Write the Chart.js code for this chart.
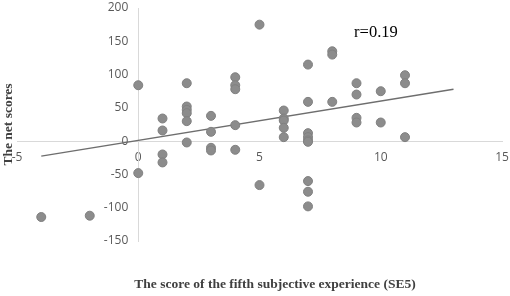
<!DOCTYPE html>
<html>
<head>
<meta charset="utf-8">
<script src="https://cdn.jsdelivr.net/npm/chart.js@4"></script>
<style>
  html, body { margin: 0; padding: 0; background: #fff; }
  #wrap { width: 510px; height: 296px; position: relative; }
</style>
</head>
<body>
<div id="wrap"><canvas id="chart"></canvas></div>
<script>
// Scatter of SE5 score vs net score
const xValues = [0, 0, 1, 1, 1, 1, 2, 2, 2, 2, 2, 2, 3, 3, 3, 3, 4, 4, 4, 4, 4,
  5, 5, -4, -2, 6, 6, 6, 6, 6, 7, 7, 7, 7, 7, 7, 7, 7, 7, 8, 8, 8,
  9, 9, 9, 9, 10, 10, 11, 11, 11];
const yValues = [84, -48, 34, 16, -20, -32, 87, 52, 47, 42, 30, -2, 38, 14, -10, -14, 96, 84, 78, 24, -13,
  175, -66, -114, -112, 46, 34, 31, 20, 6, 115, 59, 12, 6, 1, -1, -60, -76, -98, 135, 130, 59,
  87, 70, 35, 28, 75, 28, 99, 87, 6];

// trendline end points
const trendX = [-4, 13];
const trendY = [-22.5, 78];

const xTicks = [-5, 0, 5, 10, 15];
const yTicks = [-150, -100, -50, 0, 50, 100, 150, 200];

const points = xValues.map((x, i) => ({ x: x, y: yValues[i] }));
const trend = trendX.map((x, i) => ({ x: x, y: trendY[i] }));

// y axis sits at x=0, chart.js ignores padding there so shift its labels left
const shiftYLabels = {
    id: 'shiftYLabels',
    afterLayout(chart) {
        const ys = chart.scales.y;
        if (ys._shifted) return;
        const orig = ys.drawLabels.bind(ys);
        ys.drawLabels = function(area) {
            ys.ctx.save();
            ys.ctx.translate(-10, 0);
            orig(area);
            ys.ctx.restore();
        };
        ys._shifted = true;
    }
};

// axis titles and r label
const textPlugin = {
    id: 'textPlugin',
    afterDraw(chart) {
        const ctx = chart.ctx;
        const area = chart.chartArea;
        const xs = chart.scales.x;
        ctx.save();
        ctx.fillStyle = '#404040';
        ctx.font = "bold 13.5px 'Liberation Serif', serif";
        ctx.textAlign = 'center';
        ctx.textBaseline = 'middle';
        ctx.fillText('The score of the fifth subjective experience (SE5)', 275, 285);
        ctx.translate(9, (area.top + area.bottom) / 2);
        ctx.rotate(-Math.PI / 2);
        ctx.fillText('The net scores', 0, 0);
        ctx.restore();

        ctx.save();
        ctx.fillStyle = '#000';
        ctx.font = "16.5px 'Liberation Serif', serif";
        ctx.textAlign = 'left';
        ctx.textBaseline = 'middle';
        ctx.fillText('r=0.19', xs.getPixelForValue(8.9), 33);
        ctx.restore();
    }
};

const tickFont = { family: "'Open Sans', sans-serif", size: 12 };

new Chart(document.getElementById('chart'), {
    type: 'scatter',
    data: {
        datasets: [
            {
                label: 'Net scores',
                data: points,
                backgroundColor: '#8c8c8c',
                borderColor: '#808080',
                borderWidth: 1,
                pointRadius: 4.5
            },
            {
                type: 'line',
                label: 'Trend',
                data: trend,
                borderColor: '#6e6e6e',
                borderWidth: 1.5,
                pointRadius: 0,
                fill: false
            }
        ]
    },
    options: {
        responsive: true,
        maintainAspectRatio: false,
        animation: false,
        layout: {
            padding: { left: 17, right: 8, top: 8, bottom: 55 }
        },
        plugins: {
            legend: { display: false },
            tooltip: { enabled: false }
        },
        scales: {
            x: {
                type: 'linear',
                position: { y: 0 },
                min: -5,
                max: 15,
                afterBuildTicks: (s) => { s.ticks = xTicks.map(v => ({ value: v })); },
                ticks: { color: '#595959', font: tickFont, padding: 0 },
                // invisible tick marks, tickLength is just the label offset
                grid: { display: true, drawOnChartArea: false, drawTicks: true, tickLength: 9, tickColor: 'rgba(0,0,0,0)' },
                border: { display: true, color: '#d9d9d9', width: 1 }
            },
            y: {
                type: 'linear',
                position: { x: 0 },
                min: -150,
                max: 200,
                afterBuildTicks: (s) => { s.ticks = yTicks.map(v => ({ value: v })); },
                ticks: { color: '#595959', font: tickFont, padding: 0 },
                grid: { display: false, drawTicks: false },
                border: { display: true, color: '#d9d9d9', width: 1 }
            }
        }
    },
    plugins: [shiftYLabels, textPlugin]
});
</script>
</body>
</html>
